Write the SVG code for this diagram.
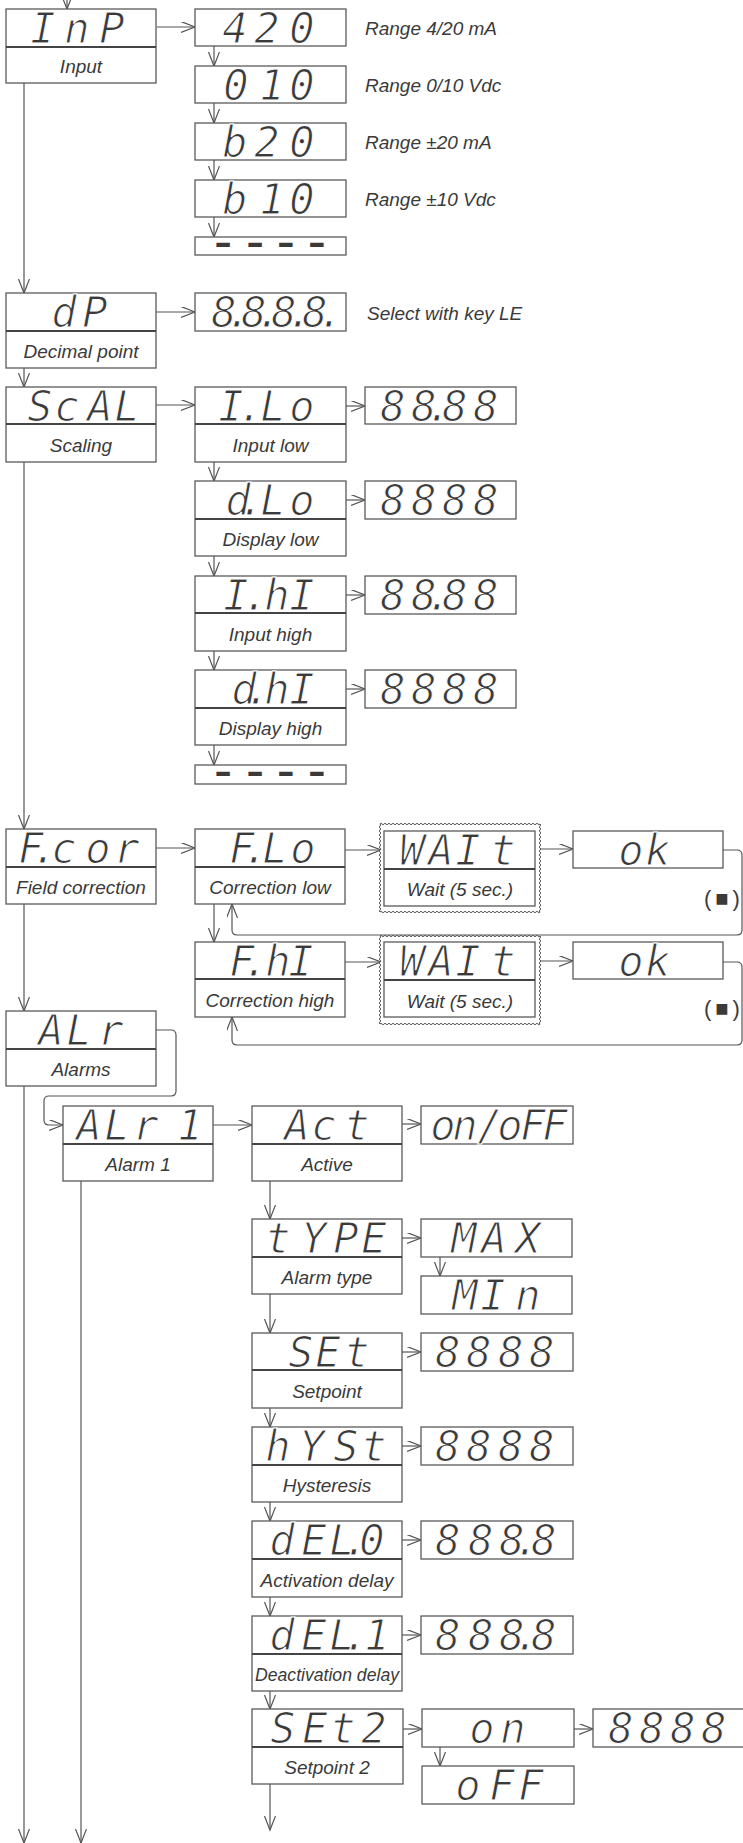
<svg xmlns="http://www.w3.org/2000/svg" width="743" height="1843" viewBox="0 0 743 1843">
<style>
.box{fill:#fff;stroke:#5a5a5a;stroke-width:1.3}
.dv{stroke:#444;stroke-width:1.8}
.seg{font-family:"DejaVu Sans Mono","Liberation Mono",monospace;font-style:oblique;font-size:42px;fill:#3a3a3a;text-anchor:middle;stroke:#fff;stroke-width:1.1px}
.dash{font-family:"DejaVu Sans Mono","Liberation Mono",monospace;font-weight:bold;font-size:30px;fill:#3a3a3a;text-anchor:middle}
.lbl{font-family:"Liberation Sans",Arial,sans-serif;font-style:italic;font-size:19px;fill:#3a3a3a;text-anchor:middle}
.note{font-family:"Liberation Sans",Arial,sans-serif;font-style:italic;font-size:19px;fill:#3a3a3a}
.sq{font-family:"Liberation Sans","DejaVu Sans",sans-serif;font-size:22px;fill:#3a3a3a;letter-spacing:4px}
.con{fill:none;stroke:#555;stroke-width:1.2;marker-end:url(#ah)}
.wavy{fill:#fff;stroke:#555;stroke-width:1}
</style>
<defs>
<marker id="ah" markerUnits="userSpaceOnUse" markerWidth="16" markerHeight="13" refX="14" refY="5.5" orient="auto">
<path d="M0,0 L14,5.5 L0,11" fill="none" stroke="#555" stroke-width="1.2"/>
</marker>
<path id="wv" class="wavy" d="M0,0 q1,-1.5 2,0 t2,0t2,0t2,0t2,0t2,0t2,0t2,0t2,0t2,0t2,0 t2,0t2,0t2,0t2,0t2,0t2,0t2,0t2,0t2,0t2,0 t2,0t2,0t2,0t2,0t2,0t2,0t2,0t2,0t2,0t2,0 t2,0t2,0t2,0t2,0t2,0t2,0t2,0t2,0t2,0t2,0 t2,0t2,0t2,0t2,0t2,0t2,0t2,0t2,0t2,0t2,0 t2,0t2,0t2,0t2,0t2,0t2,0t2,0t2,0t2,0t2,0 t2,0t2,0t2,0t2,0t2,0t2,0t2,0t2,0t2,0t2,0 t2,0t2,0t2,0t2,0t2,0t2,0t2,0t2,0t2,0 q1.5,1 0,2 t0,2t0,2t0,2t0,2t0,2t0,2t0,2t0,2t0,2t0,2 t0,2t0,2t0,2t0,2t0,2t0,2t0,2t0,2t0,2t0,2 t0,2t0,2t0,2t0,2t0,2t0,2t0,2t0,2t0,2t0,2 t0,2t0,2t0,2t0,2t0,2t0,2t0,2t0,2t0,2t0,2 t0,2t0,2t0,2 q-1,1.5 -2,0 t-2,0t-2,0t-2,0t-2,0t-2,0t-2,0t-2,0t-2,0t-2,0t-2,0 t-2,0t-2,0t-2,0t-2,0t-2,0t-2,0t-2,0t-2,0t-2,0t-2,0 t-2,0t-2,0t-2,0t-2,0t-2,0t-2,0t-2,0t-2,0t-2,0t-2,0 t-2,0t-2,0t-2,0t-2,0t-2,0t-2,0t-2,0t-2,0t-2,0t-2,0 t-2,0t-2,0t-2,0t-2,0t-2,0t-2,0t-2,0t-2,0t-2,0t-2,0 t-2,0t-2,0t-2,0t-2,0t-2,0t-2,0t-2,0t-2,0t-2,0t-2,0 t-2,0t-2,0t-2,0t-2,0t-2,0t-2,0t-2,0t-2,0t-2,0t-2,0 t-2,0t-2,0t-2,0t-2,0t-2,0t-2,0t-2,0t-2,0t-2,0 q-1.5,-1 0,-2 t0,-2t0,-2t0,-2t0,-2t0,-2t0,-2t0,-2t0,-2t0,-2t0,-2 t0,-2t0,-2t0,-2t0,-2t0,-2t0,-2t0,-2t0,-2t0,-2t0,-2 t0,-2t0,-2t0,-2t0,-2t0,-2t0,-2t0,-2t0,-2t0,-2t0,-2 t0,-2t0,-2t0,-2t0,-2t0,-2t0,-2t0,-2t0,-2t0,-2t0,-2 t0,-2t0,-2t0,-2 Z"/>
</defs>
<rect width="743" height="1843" fill="#fff"/>

<g id="connectors">
<path class="con" d="M67,-20 V9"/>
<path class="con" d="M157,27 H195"/>
<path class="con" d="M24,83 V293"/>
<path class="con" d="M214,46 V66"/>
<path class="con" d="M214,103 V123"/>
<path class="con" d="M214,160 V180"/>
<path class="con" d="M214,217 V237"/>
<path class="con" d="M156,312 H195"/>
<path class="con" d="M24,368 V387"/>
<path class="con" d="M156,405 H195"/>
<path class="con" d="M346,406 H365"/>
<path class="con" d="M214,462 V481"/>
<path class="con" d="M346,500 H365"/>
<path class="con" d="M214,556 V576"/>
<path class="con" d="M346,595 H365"/>
<path class="con" d="M214,651 V670"/>
<path class="con" d="M346,689 H365"/>
<path class="con" d="M214,745 V765"/>
<path class="con" d="M24,462 V829"/>
<path class="con" d="M156,848 H195"/>
<path class="con" d="M345,850 H381"/>
<path class="con" d="M540,849 H573"/>
<path class="con" d="M723,850 H737 Q742,850 742,855 V930 Q742,935 737,935 H237 Q232,935 232,930 V904"/>
<path class="con" d="M214,904 V942"/>
<path class="con" d="M345,962 H381"/>
<path class="con" d="M540,961 H573"/>
<path class="con" d="M723,962 H737 Q742,962 742,967 V1040 Q742,1045 737,1045 H237 Q232,1045 232,1040 V1017"/>
<path class="con" d="M24,904 V1011"/>
<path class="con" d="M24,1086 V1843"/>
<path class="con" d="M156,1030 H171 Q176,1030 176,1035 V1091 Q176,1096 171,1096 H49 Q44,1096 44,1101 V1120 Q44,1125 49,1125 H63"/>
<path class="con" d="M213,1125 H252"/>
<path class="con" d="M81,1181 V1843"/>
<path class="con" d="M402,1124 H421"/>
<path class="con" d="M270,1181 V1219"/>
<path class="con" d="M402,1238 H421"/>
<path class="con" d="M440,1257 V1276"/>
<path class="con" d="M270,1294 V1333"/>
<path class="con" d="M402,1352 H421"/>
<path class="con" d="M270,1408 V1427"/>
<path class="con" d="M402,1446 H421"/>
<path class="con" d="M270,1502 V1521"/>
<path class="con" d="M402,1540 H421"/>
<path class="con" d="M270,1597 V1616"/>
<path class="con" d="M402,1635 H421"/>
<path class="con" d="M270,1691 V1709"/>
<path class="con" d="M403,1729 H422"/>
<path class="con" d="M574,1729 H593"/>
<path class="con" d="M440,1747 V1766"/>
<path class="con" d="M270,1784 V1830"/>
</g>

<g id="n-inp"><rect class="box" x="6" y="9" width="150" height="74"/><line class="dv" x1="6" y1="47" x2="156" y2="47"/><text class="seg" x="43 77 112" y="43">InP</text><text class="lbl" x="81" y="73">Input</text></g>
<g id="n-420"><rect class="box" x="195" y="9" width="151" height="37"/><text class="seg" x="235 267 302" y="43">420</text><text class="note" x="365" y="35">Range 4/20 mA</text></g>
<g id="n-010"><rect class="box" x="195" y="66" width="151" height="37"/><text class="seg" x="236 272 302" y="100">010</text><text class="note" x="365" y="92">Range 0/10 Vdc</text></g>
<g id="n-b20"><rect class="box" x="195" y="123" width="151" height="37"/><text class="seg" x="235 267 302" y="157">b20</text><text class="note" x="365" y="149">Range ±20 mA</text></g>
<g id="n-b10"><rect class="box" x="195" y="180" width="151" height="37"/><text class="seg" x="235 272 302" y="214">b10</text><text class="note" x="365" y="206">Range ±10 Vdc</text></g>
<g id="n-end1"><rect class="box" x="195" y="237" width="151" height="18"/><text class="dash" transform="scale(1.45 1)" x="153.8 175.9 197.2 218.6" y="254">----</text></g>

<g id="n-dp"><rect class="box" x="6" y="293" width="150" height="75"/><line class="dv" x1="6" y1="331" x2="156" y2="331"/><text class="seg" x="64 95" y="327">dP</text><text class="lbl" x="81" y="358">Decimal point</text></g>
<g id="n-dpval"><rect class="box" x="195" y="293" width="151" height="38"/><text class="seg" x="224 239 254 269 284 300 315 331" y="327">8.8.8.8.</text><text class="note" x="367" y="320">Select with key LE</text></g>

<g id="n-scal"><rect class="box" x="6" y="387" width="150" height="75"/><line class="dv" x1="6" y1="424" x2="156" y2="424"/><text class="seg" x="40 67 100 127" y="421">ScAL</text><text class="lbl" x="81" y="452">Scaling</text></g>
<g id="n-ilo"><rect class="box" x="195" y="387" width="151" height="75"/><line class="dv" x1="195" y1="424" x2="346" y2="424"/><text class="seg" x="231 251 273 302" y="421">I.Lo</text><text class="lbl" x="270.5" y="452">Input low</text></g>
<g id="n-ilo-v"><rect class="box" x="365" y="387" width="151" height="37"/><text class="seg" x="393 424 439 455 486" y="421">88.88</text></g>
<g id="n-dlo"><rect class="box" x="195" y="481" width="151" height="75"/><line class="dv" x1="195" y1="519" x2="346" y2="519"/><text class="seg" x="238 252 273 302" y="515">d.Lo</text><text class="lbl" x="270.5" y="546">Display low</text></g>
<g id="n-dlo-v"><rect class="box" x="365" y="481" width="151" height="38"/><text class="seg" x="393 424 455 486" y="515">8888</text></g>
<g id="n-ihi"><rect class="box" x="195" y="576" width="151" height="75"/><line class="dv" x1="195" y1="613" x2="346" y2="613"/><text class="seg" x="236 256 277 302" y="610">I.hI</text><text class="lbl" x="270.5" y="641">Input high</text></g>
<g id="n-ihi-v"><rect class="box" x="365" y="576" width="151" height="38"/><text class="seg" x="393 424 439 455 486" y="610">88.88</text></g>
<g id="n-dhi"><rect class="box" x="195" y="670" width="151" height="75"/><line class="dv" x1="195" y1="708" x2="346" y2="708"/><text class="seg" x="244 258 277 302" y="704">d.hI</text><text class="lbl" x="270.5" y="735">Display high</text></g>
<g id="n-dhi-v"><rect class="box" x="365" y="670" width="151" height="38"/><text class="seg" x="393 424 455 486" y="704">8888</text></g>
<g id="n-end2"><rect class="box" x="195" y="765" width="151" height="19"/><text class="dash" transform="scale(1.45 1)" x="153.8 175.9 197.2 218.6" y="783">----</text></g>

<g id="n-fcor"><rect class="box" x="6" y="829" width="150" height="75"/><line class="dv" x1="6" y1="867" x2="156" y2="867"/><text class="seg" x="31 45 64 98 127" y="863">F.cor</text><text class="lbl" x="81" y="894">Field correction</text></g>
<g id="n-flo"><rect class="box" x="195" y="829" width="150" height="75"/><line class="dv" x1="195" y1="867" x2="345" y2="867"/><text class="seg" x="242 256 275 303" y="863">F.Lo</text><text class="lbl" x="270" y="894">Correction low</text></g>
<g id="n-wait1"><use href="#wv" x="380" y="824"/><rect class="box" x="384" y="831" width="151" height="75"/><line class="dv" x1="384" y1="869" x2="535" y2="869"/><text class="seg" x="412 441 468 503" y="865">WAIt</text><text class="lbl" x="460" y="896">Wait (5 sec.)</text></g>
<g id="n-ok1"><rect class="box" x="573" y="831" width="150" height="37"/><text class="seg" x="631 658" y="865">ok</text><text class="sq" x="704" y="906">(■)</text></g>
<g id="n-fhi"><rect class="box" x="195" y="942" width="150" height="75"/><line class="dv" x1="195" y1="979" x2="345" y2="979"/><text class="seg" x="242 256 278 301" y="976">F.hI</text><text class="lbl" x="270" y="1007">Correction high</text></g>
<g id="n-wait2"><use href="#wv" x="380" y="936"/><rect class="box" x="384" y="942" width="151" height="75"/><line class="dv" x1="384" y1="980" x2="535" y2="980"/><text class="seg" x="412 441 468 503" y="976">WAIt</text><text class="lbl" x="460" y="1008">Wait (5 sec.)</text></g>
<g id="n-ok2"><rect class="box" x="573" y="942" width="150" height="37"/><text class="seg" x="631 658" y="976">ok</text><text class="sq" x="704" y="1016">(■)</text></g>

<g id="n-alr"><rect class="box" x="6" y="1011" width="150" height="75"/><line class="dv" x1="6" y1="1049" x2="156" y2="1049"/><text class="seg" x="51 79 111" y="1045">ALr</text><text class="lbl" x="81" y="1076">Alarms</text></g>
<g id="n-alr1"><rect class="box" x="63" y="1106" width="150" height="75"/><line class="dv" x1="63" y1="1144" x2="213" y2="1144"/><text class="seg" x="89 117 146 190" y="1140">ALr1</text><text class="lbl" x="138" y="1171">Alarm 1</text></g>
<g id="n-act"><rect class="box" x="252" y="1106" width="150" height="75"/><line class="dv" x1="252" y1="1144" x2="402" y2="1144"/><text class="seg" x="297 324 357" y="1140">Act</text><text class="lbl" x="327" y="1171">Active</text></g>
<g id="n-onoff"><rect class="box" x="421" y="1106" width="152" height="38"/><text class="seg" x="443 465 490 510 533 555" y="1140">on/oFF</text></g>
<g id="n-type"><rect class="box" x="252" y="1219" width="150" height="75"/><line class="dv" x1="252" y1="1257" x2="402" y2="1257"/><text class="seg" x="278 314 346 374" y="1253">tYPE</text><text class="lbl" x="327" y="1284">Alarm type</text></g>
<g id="n-max"><rect class="box" x="421" y="1219" width="151" height="38"/><text class="seg" x="464 494 528" y="1253">MAX</text></g>
<g id="n-min"><rect class="box" x="421" y="1276" width="151" height="38"/><text class="seg" x="465 493 528" y="1310">MIn</text></g>
<g id="n-set"><rect class="box" x="252" y="1333" width="150" height="75"/><line class="dv" x1="252" y1="1370" x2="402" y2="1370"/><text class="seg" x="301 328 357" y="1367">SEt</text><text class="lbl" x="327" y="1398">Setpoint</text></g>
<g id="n-set-v"><rect class="box" x="421" y="1333" width="152" height="38"/><text class="seg" x="448 479 511 542" y="1367">8888</text></g>
<g id="n-hyst"><rect class="box" x="252" y="1427" width="150" height="75"/><line class="dv" x1="252" y1="1465" x2="402" y2="1465"/><text class="seg" x="278 312 346 374" y="1461">hYSt</text><text class="lbl" x="327" y="1492">Hysteresis</text></g>
<g id="n-hyst-v"><rect class="box" x="421" y="1427" width="152" height="38"/><text class="seg" x="448 479 511 542" y="1461">8888</text></g>
<g id="n-del0"><rect class="box" x="252" y="1521" width="150" height="76"/><line class="dv" x1="252" y1="1559" x2="402" y2="1559"/><text class="seg" x="282 314 342 356 372" y="1555">dEL.0</text><text class="lbl" x="327" y="1587">Activation delay</text></g>
<g id="n-del0-v"><rect class="box" x="421" y="1521" width="152" height="38"/><text class="seg" x="448 481 512 527 544" y="1555">888.8</text></g>
<g id="n-del1"><rect class="box" x="252" y="1616" width="150" height="75"/><line class="dv" x1="252" y1="1654" x2="402" y2="1654"/><text class="seg" x="282 314 342 356 377" y="1650">dEL.1</text><text class="lbl" x="327" y="1681" textLength="144" lengthAdjust="spacingAndGlyphs">Deactivation delay</text></g>
<g id="n-del1-v"><rect class="box" x="421" y="1616" width="152" height="38"/><text class="seg" x="448 481 512 527 544" y="1650">888.8</text></g>
<g id="n-set2"><rect class="box" x="252" y="1709" width="151" height="75"/><line class="dv" x1="252" y1="1747" x2="403" y2="1747"/><text class="seg" x="283 315 343 374" y="1743">SEt2</text><text class="lbl" x="327" y="1774">Setpoint 2</text></g>
<g id="n-on"><rect class="box" x="422" y="1709" width="152" height="38"/><text class="seg" x="482 513" y="1743">on</text></g>
<g id="n-set2-v"><rect class="box" x="593" y="1709" width="152" height="38"/><text class="seg" x="621 652 683 714" y="1743">8888</text></g>
<g id="n-off"><rect class="box" x="422" y="1766" width="152" height="38"/><text class="seg" x="468 502 531" y="1800">oFF</text></g>
</svg>
